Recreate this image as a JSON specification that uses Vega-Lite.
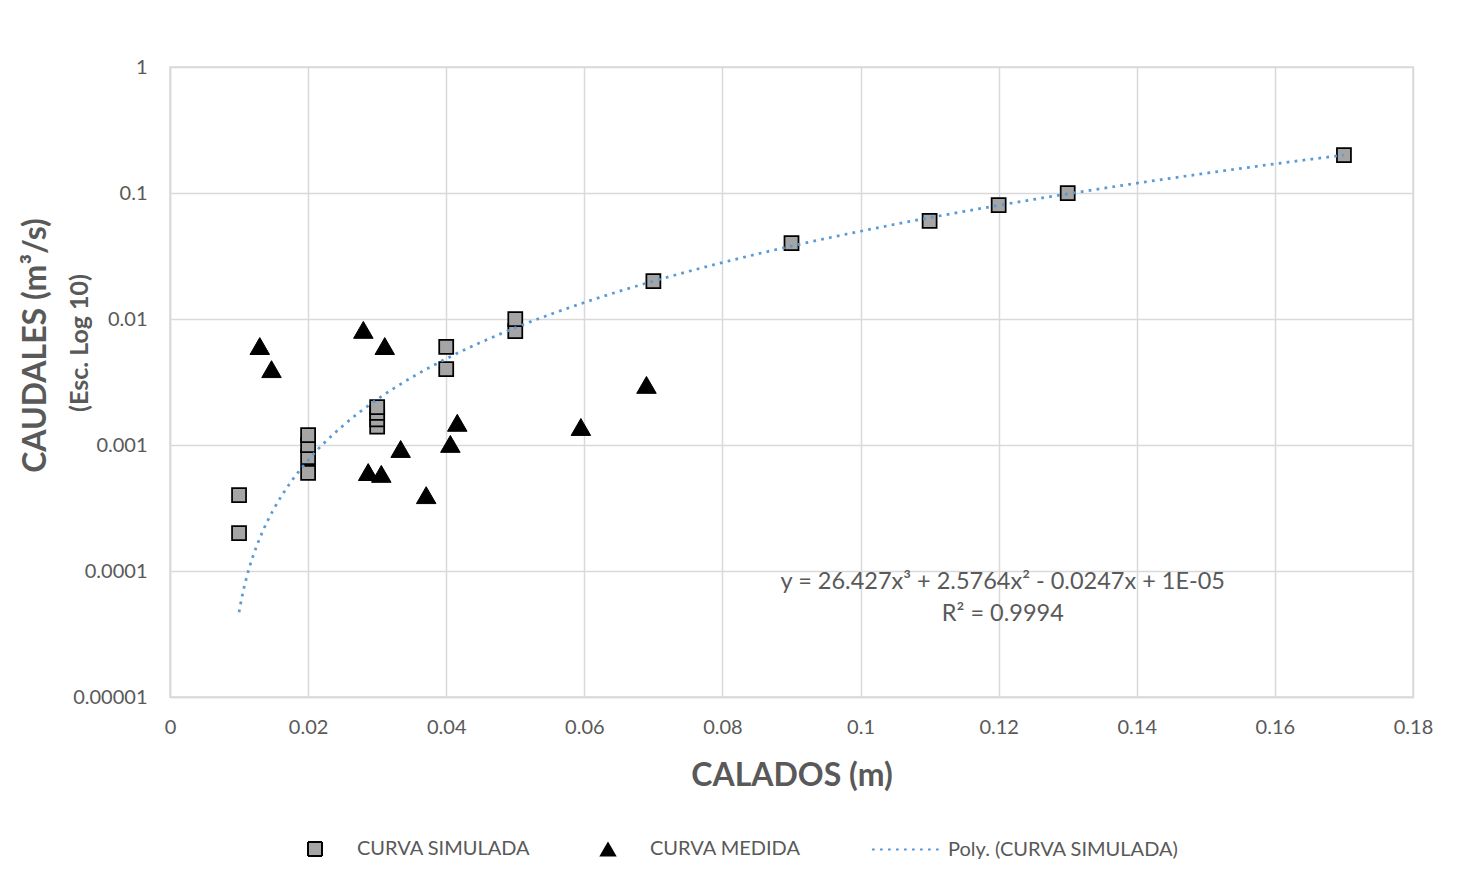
{
  "$schema": "https://vega.github.io/schema/vega-lite/v6.json",
  "width": 1243,
  "height": 630,
  "autosize": "none",
  "padding": {"left": 170, "top": 67, "right": 50, "bottom": 185},
  "background": "white",
  "config": {
    "font": "Lato",
    "view": {"stroke": "#d9d9d9", "strokeWidth": 1.5},
    "axis": {
      "labelFont": "Lato", "labelFontSize": 20, "labelColor": "#595959",
      "titleFont": "Lato", "titleFontWeight": "bold", "titleColor": "#595959",
      "gridColor": "#d9d9d9", "gridWidth": 1.5, "domainColor": "#d9d9d9", "domainWidth": 1.5,
      "ticks": false, "labelFlush": false
    },
    "legend": {
      "labelLimit": 400,
      "symbolOpacity": 1,
      "symbolSize": 196,
      "symbolStrokeWidth": 2
    }
  },
  "datasets": {
    "sim": [
      {"x": 0.01, "y": 0.0002, "series": "CURVA SIMULADA"},
      {"x": 0.01, "y": 0.0004, "series": "CURVA SIMULADA"},
      {"x": 0.02, "y": 0.0006, "series": "CURVA SIMULADA"},
      {"x": 0.02, "y": 0.0008, "series": "CURVA SIMULADA"},
      {"x": 0.02, "y": 0.001, "series": "CURVA SIMULADA"},
      {"x": 0.02, "y": 0.0012, "series": "CURVA SIMULADA"},
      {"x": 0.03, "y": 0.0014, "series": "CURVA SIMULADA"},
      {"x": 0.03, "y": 0.0016, "series": "CURVA SIMULADA"},
      {"x": 0.03, "y": 0.0018, "series": "CURVA SIMULADA"},
      {"x": 0.03, "y": 0.002, "series": "CURVA SIMULADA"},
      {"x": 0.04, "y": 0.004, "series": "CURVA SIMULADA"},
      {"x": 0.04, "y": 0.006, "series": "CURVA SIMULADA"},
      {"x": 0.05, "y": 0.008, "series": "CURVA SIMULADA"},
      {"x": 0.05, "y": 0.01, "series": "CURVA SIMULADA"},
      {"x": 0.07, "y": 0.02, "series": "CURVA SIMULADA"},
      {"x": 0.09, "y": 0.04, "series": "CURVA SIMULADA"},
      {"x": 0.11, "y": 0.06, "series": "CURVA SIMULADA"},
      {"x": 0.12, "y": 0.08, "series": "CURVA SIMULADA"},
      {"x": 0.13, "y": 0.1, "series": "CURVA SIMULADA"},
      {"x": 0.17, "y": 0.2, "series": "CURVA SIMULADA"}
    ],
    "med": [
      {"x": 0.0130, "y": 0.0061, "series": "CURVA MEDIDA"},
      {"x": 0.0147, "y": 0.0040, "series": "CURVA MEDIDA"},
      {"x": 0.0280, "y": 0.0082, "series": "CURVA MEDIDA"},
      {"x": 0.0311, "y": 0.0061, "series": "CURVA MEDIDA"},
      {"x": 0.0287, "y": 0.00061, "series": "CURVA MEDIDA"},
      {"x": 0.0306, "y": 0.00059, "series": "CURVA MEDIDA"},
      {"x": 0.0334, "y": 0.00093, "series": "CURVA MEDIDA"},
      {"x": 0.0371, "y": 0.00040, "series": "CURVA MEDIDA"},
      {"x": 0.0406, "y": 0.00102, "series": "CURVA MEDIDA"},
      {"x": 0.0416, "y": 0.0015, "series": "CURVA MEDIDA"},
      {"x": 0.0595, "y": 0.00139, "series": "CURVA MEDIDA"},
      {"x": 0.0690, "y": 0.0030, "series": "CURVA MEDIDA"}
    ],
    "poly": [
      {"x": 0.01, "y": 0.0000471, "series": "Poly. (CURVA SIMULADA)"},
      {"x": 0.0105, "y": 0.0000653, "series": "Poly. (CURVA SIMULADA)"},
      {"x": 0.011, "y": 0.0000852, "series": "Poly. (CURVA SIMULADA)"},
      {"x": 0.0115, "y": 0.000107, "series": "Poly. (CURVA SIMULADA)"},
      {"x": 0.0125, "y": 0.000155, "series": "Poly. (CURVA SIMULADA)"},
      {"x": 0.0135, "y": 0.000211, "series": "Poly. (CURVA SIMULADA)"},
      {"x": 0.015, "y": 0.000308, "series": "Poly. (CURVA SIMULADA)"},
      {"x": 0.0175, "y": 0.000508, "series": "Poly. (CURVA SIMULADA)"},
      {"x": 0.02, "y": 0.000758, "series": "Poly. (CURVA SIMULADA)"},
      {"x": 0.025, "y": 0.001416, "series": "Poly. (CURVA SIMULADA)"},
      {"x": 0.03, "y": 0.002301, "series": "Poly. (CURVA SIMULADA)"},
      {"x": 0.035, "y": 0.003435, "series": "Poly. (CURVA SIMULADA)"},
      {"x": 0.04, "y": 0.004836, "series": "Poly. (CURVA SIMULADA)"},
      {"x": 0.05, "y": 0.008519, "series": "Poly. (CURVA SIMULADA)"},
      {"x": 0.06, "y": 0.013511, "series": "Poly. (CURVA SIMULADA)"},
      {"x": 0.07, "y": 0.01997, "series": "Poly. (CURVA SIMULADA)"},
      {"x": 0.08, "y": 0.028054, "series": "Poly. (CURVA SIMULADA)"},
      {"x": 0.09, "y": 0.037921, "series": "Poly. (CURVA SIMULADA)"},
      {"x": 0.10, "y": 0.049731, "series": "Poly. (CURVA SIMULADA)"},
      {"x": 0.11, "y": 0.063642, "series": "Poly. (CURVA SIMULADA)"},
      {"x": 0.12, "y": 0.079812, "series": "Poly. (CURVA SIMULADA)"},
      {"x": 0.13, "y": 0.0984, "series": "Poly. (CURVA SIMULADA)"},
      {"x": 0.14, "y": 0.119565, "series": "Poly. (CURVA SIMULADA)"},
      {"x": 0.15, "y": 0.143465, "series": "Poly. (CURVA SIMULADA)"},
      {"x": 0.16, "y": 0.170259, "series": "Poly. (CURVA SIMULADA)"},
      {"x": 0.17, "y": 0.200105, "series": "Poly. (CURVA SIMULADA)"}
    ]
  },
  "layer": [
    {
      "data": {"name": "sim"},
      "mark": {"type": "point", "filled": true, "opacity": 1, "size": 196, "strokeWidth": 1.75},
      "encoding": {
        "x": {
          "field": "x", "type": "quantitative",
          "scale": {"domain": [0, 0.18], "nice": false, "zero": false},
          "axis": {
            "values": [0, 0.02, 0.04, 0.06, 0.08, 0.1, 0.12, 0.14, 0.16, 0.18],
            "labelExpr": "'' + datum.value",
            "labelPadding": 20,
            "title": "CALADOS (m)", "titleFontSize": 32, "titlePadding": 23
          }
        },
        "y": {
          "field": "y", "type": "quantitative",
          "scale": {"type": "log", "domain": [0.00001, 1], "nice": false},
          "axis": {
            "values": [0.00001, 0.0001, 0.001, 0.01, 0.1, 1],
            "labelExpr": "'' + datum.value",
            "labelPadding": 23,
            "title": "CAUDALES (m³/s)", "titleFontSize": 32,
            "titleAngle": 270, "titleX": -135, "titleY": 278,
            "titleAlign": "center", "titleBaseline": "middle"
          }
        },
        "fill": {"field": "series", "type": "nominal",
          "scale": {"domain": ["CURVA SIMULADA", "CURVA MEDIDA", "Poly. (CURVA SIMULADA)"], "range": ["#a5a5a5", "#000000", "transparent"]},
          "legend": {
            "title": null, "orient": "none", "direction": "horizontal",
            "legendX": 135, "legendY": 772, "padding": 0,
            "columnPadding": 66, "labelOffset": 32,
            "labelFont": "Lato", "labelFontSize": 20, "labelColor": "#595959", "labelLimit": 400
          }
        },
        "stroke": {"field": "series", "type": "nominal",
          "scale": {"domain": ["CURVA SIMULADA", "CURVA MEDIDA", "Poly. (CURVA SIMULADA)"], "range": ["#000000", "#000000", "#5b9bd5"]},
          "legend": {
            "title": null, "orient": "none", "direction": "horizontal",
            "legendX": 135, "legendY": 772, "padding": 0,
            "columnPadding": 66, "labelOffset": 32,
            "labelFont": "Lato", "labelFontSize": 20, "labelColor": "#595959", "labelLimit": 400
          }
        },
        "shape": {"field": "series", "type": "nominal",
          "scale": {"domain": ["CURVA SIMULADA", "CURVA MEDIDA", "Poly. (CURVA SIMULADA)"], "range": ["square", "triangle-up", "M-4.86,0H5.14"]},
          "legend": {
            "title": null, "orient": "none", "direction": "horizontal",
            "legendX": 135, "legendY": 772, "padding": 0,
            "columnPadding": 66, "labelOffset": 32,
            "labelFont": "Lato", "labelFontSize": 20, "labelColor": "#595959", "labelLimit": 400
          }
        }
      }
    },
    {
      "data": {"name": "med"},
      "mark": {"type": "point", "filled": true, "opacity": 1, "size": 380, "strokeWidth": 1},
      "encoding": {
        "x": {"field": "x", "type": "quantitative"},
        "y": {"field": "y", "type": "quantitative"},
        "fill": {"field": "series", "type": "nominal"},
        "stroke": {"field": "series", "type": "nominal"},
        "shape": {"field": "series", "type": "nominal"}
      }
    },
    {
      "data": {"name": "poly"},
      "mark": {"type": "line", "interpolate": "monotone", "strokeWidth": 2.75},
      "encoding": {
        "x": {"field": "x", "type": "quantitative"},
        "y": {"field": "y", "type": "quantitative"},
        "stroke": {"field": "series", "type": "nominal"},
        "strokeDash": {"field": "series", "type": "nominal",
          "scale": {"domain": ["CURVA SIMULADA", "CURVA MEDIDA", "Poly. (CURVA SIMULADA)"], "range": [[1, 0], [1, 0], [2.75, 5.25]]},
          "legend": {
            "title": null, "orient": "none", "direction": "horizontal",
            "legendX": 135, "legendY": 772, "padding": 0,
            "columnPadding": 66, "labelOffset": 32,
            "labelFont": "Lato", "labelFontSize": 20, "labelColor": "#595959", "labelLimit": 400
          }
        }
      }
    },
    {
      "data": {"values": [{"label": "eq"}]},
      "mark": {"type": "text", "font": "Lato", "fontSize": 23.5, "fill": "#595959", "align": "center", "baseline": "middle", "lineHeight": 32, "lineBreak": "|", "clip": false},
      "encoding": {
        "x": {"datum": 0.1206, "type": "quantitative"},
        "y": {"datum": 0.0000818, "type": "quantitative"},
        "text": {"value": "y = 26.427x³ + 2.5764x² - 0.0247x + 1E-05|R² = 0.9994"}
      }
    },
    {
      "data": {"values": [{"label": "yt"}]},
      "mark": {"type": "text", "font": "Lato", "fontSize": 25, "fontWeight": "bold", "fill": "#595959", "align": "center", "baseline": "middle", "angle": 270, "clip": false},
      "encoding": {
        "x": {"datum": -0.01303, "type": "quantitative"},
        "y": {"datum": 0.00645, "type": "quantitative"},
        "text": {"value": "(Esc. Log 10)"}
      }
    }
  ]
}
